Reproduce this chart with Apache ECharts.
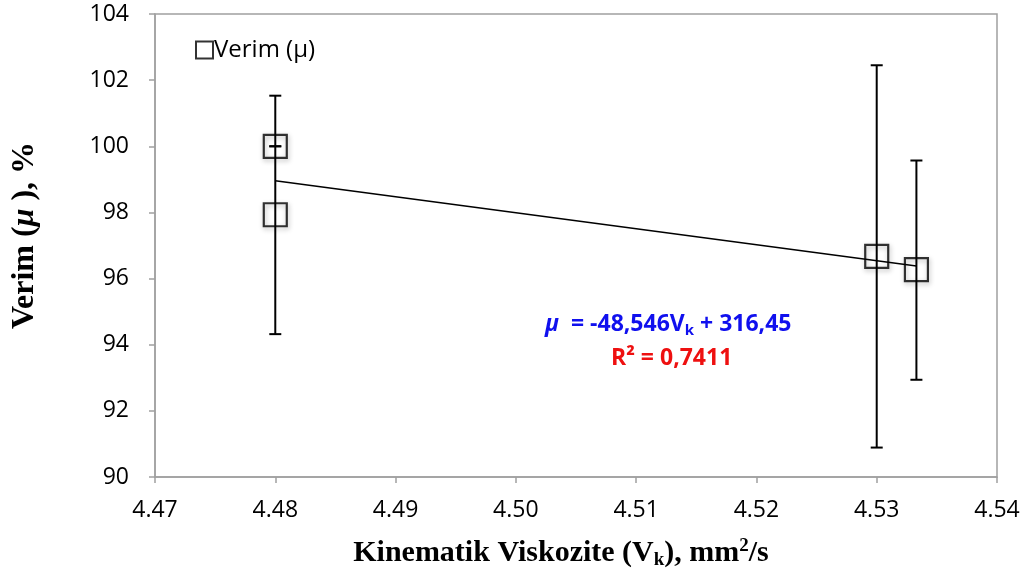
<!DOCTYPE html>
<html><head><meta charset="utf-8">
<script src="https://cdn.jsdelivr.net/npm/echarts@6/dist/echarts.min.js"></script>
<style>html,body{margin:0;padding:0;background:#fff}#c{width:1029px;height:580px}</style>
</head><body><div id="c"></div>
<script>
// Data
const viscosity = [4.48, 4.48, 4.53, 4.5333];
const efficiency = [100.0, 97.93, 96.67, 96.27];
const errLow = [100.0, 94.32, 90.89, 92.94];
const errHigh = [100.0, 101.53, 102.45, 99.57];
const trendX = [4.48, 4.5333];
const trendY = [98.96, 96.38];
const xTicks = [4.47, 4.48, 4.49, 4.50, 4.51, 4.52, 4.53, 4.54];
const yTicks = [90, 92, 94, 96, 98, 100, 102, 104];

const chart = echarts.init(document.getElementById('c'));
const pts = viscosity.map((x, i) => [x, efficiency[i]]);
const errs = viscosity.map((x, i) => [x, errLow[i], errHigh[i]]);
const trend = trendX.map((x, i) => [x, trendY[i]]);

chart.setOption({
  animation: false,
  textStyle: {fontFamily: 'Open Sans'},
  grid: {left: 155, right: 32, top: 14, bottom: 103, show: true, borderColor: '#a0a0a0', borderWidth: 1.5},
  legend: {
    left: 190, top: 33, itemWidth: 17, itemHeight: 17, itemGap: 4,
    data: [{name: 'Verim (μ)', icon: 'rect'}],
    textStyle: {fontFamily: 'Open Sans', fontSize: 24, color: '#000', padding: [0,0,0,-4]}
  },
  xAxis: {
    type: 'value', min: xTicks[0], max: xTicks[xTicks.length - 1], interval: 0.01,
    axisLine: {lineStyle: {color: '#a0a0a0', width: 1.5}},
    axisTick: {show: true, length: 6, inside: false, lineStyle: {color: '#a0a0a0', width: 1.5}},
    splitLine: {show: false},
    axisLabel: {margin: 22, fontFamily: 'Open Sans', fontSize: 23, color: '#000',
      formatter: v => v.toFixed(2)},
    name: '{b|Kinematik Viskozite (V}{sub|k}{b|), mm}{sup|2}{b|/s}{g|}',
    nameLocation: 'middle', nameGap: 60,
    nameTextStyle: {rich: {
      b: {fontFamily: 'Liberation Serif', fontWeight: 'bold', fontSize: 30, color: '#000'},
      sub: {fontFamily: 'Liberation Serif', fontWeight: 'bold', fontSize: 19, color: '#000', verticalAlign: 'bottom', padding: [14,0,0,0]},
      sup: {fontFamily: 'Liberation Serif', fontWeight: 'bold', fontSize: 19, color: '#000', verticalAlign: 'top', padding: [0,0,12,0]},
      g: {width: 30}
    }}
  },
  yAxis: {
    type: 'value', min: yTicks[0], max: yTicks[yTicks.length - 1], interval: 2,
    axisLine: {show: true, lineStyle: {color: '#a0a0a0', width: 1.5}},
    axisTick: {show: true, length: 6, inside: false, lineStyle: {color: '#a0a0a0', width: 1.5}},
    splitLine: {show: false},
    axisLabel: {margin: 26, fontFamily: 'Open Sans', fontSize: 23, color: '#000'},
    name: '{g|}{b|Verim (}{i|μ}{b| ), %}',
    nameLocation: 'middle', nameGap: 114, nameRotate: 90,
    nameTextStyle: {rich: {
      b: {fontFamily: 'Liberation Serif', fontWeight: 'bold', fontSize: 32, color: '#000'},
      i: {fontFamily: 'Liberation Serif', fontWeight: 'bold', fontStyle: 'italic', fontSize: 32, color: '#000'},
      g: {width: 20}
    }}
  },
  graphic: [
    {type: 'text', left: 545, top: 313, style: {
      text: '{i|μ}{t|  = -48,546V}{s|k}{t| + 316,45}',
      rich: {
        i: {fontFamily: 'Open Sans', fontStyle: 'italic', fontWeight: 'bold', fontSize: 23, fill: '#1010ee'},
        t: {fontFamily: 'Open Sans', fontWeight: 'bold', fontSize: 23, fill: '#1010ee'},
        s: {fontFamily: 'Open Sans', fontWeight: 'bold', fontSize: 15, fill: '#1010ee', verticalAlign: 'bottom', padding: [12,0,0,0]}
      }}},
    {type: 'text', left: 611, top: 347, style: {
      text: 'R² = 0,7411', fontFamily: 'Open Sans', fontWeight: 'bold', fontSize: 23, fill: '#ee1010'}}
  ],
  series: [
    {
      type: 'line', data: trend, symbol: 'none', silent: true,
      lineStyle: {color: '#000', width: 1.5}, z: 2
    },
    {
      type: 'custom', data: errs, z: 3, silent: true,
      renderItem: (params, api) => {
        const x = api.value(0);
        const lo = api.coord([x, api.value(1)]);
        const hi = api.coord([x, api.value(2)]);
        const cw = 6;
        const st = {stroke: '#000', lineWidth: 2};
        return {type: 'group', children: [
          {type: 'line', shape: {x1: lo[0], y1: lo[1], x2: hi[0], y2: hi[1]}, style: st},
          {type: 'line', shape: {x1: lo[0]-cw, y1: lo[1], x2: lo[0]+cw, y2: lo[1]}, style: st},
          {type: 'line', shape: {x1: hi[0]-cw, y1: hi[1], x2: hi[0]+cw, y2: hi[1]}, style: st}
        ]};
      }
    },
    {
      name: 'Verim (μ)', type: 'scatter', data: pts, symbol: 'rect', symbolSize: 23, z: 4,
      itemStyle: {color: 'rgba(255,255,255,0)', borderColor: '#000', borderWidth: 2.2,
        shadowColor: 'rgba(0,0,0,0.35)', shadowBlur: 5, shadowOffsetX: 1, shadowOffsetY: 2}
    }
  ]
});
</script></body></html>
